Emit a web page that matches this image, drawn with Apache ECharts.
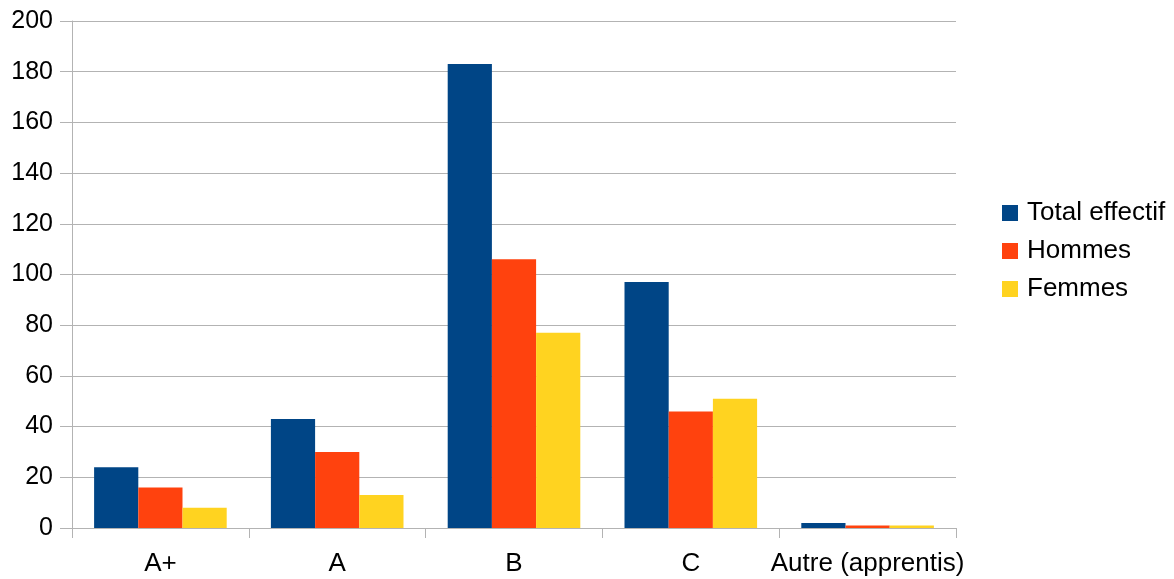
<!DOCTYPE html>
<html><head><meta charset="utf-8">
<script src="https://cdn.jsdelivr.net/npm/echarts@6/dist/echarts.min.js"></script>
<style>html,body{margin:0;padding:0;background:#fff}#c{width:1174px;height:579px}</style>
</head><body><div id="c"></div>
<script>
const categories = ['A+', 'A', 'B', 'C', 'Autre (apprentis)'];
const totalEffectif = [24, 43, 183, 97, 2];
const hommes = [16, 30, 106, 46, 1];
const femmes = [8, 13, 77, 51, 1];
const seriesNames = ['Total effectif', 'Hommes', 'Femmes'];
const yTicks = {min: 0, max: 200, interval: 20};

const font = 'Liberation Sans';
const chart = echarts.init(document.getElementById('c'));
chart.setOption({
  animation: false,
  textStyle: {fontFamily: font},
  color: ['#004586', '#ff420e', '#ffd320'],
  grid: {left: 72, right: 218, top: 21, bottom: 51, containLabel: false},
  legend: {
    orient: 'vertical', left: 1002, top: 200, padding: 0,
    itemWidth: 16, itemHeight: 16, itemGap: 12,
    icon: 'rect',
    textStyle: {fontFamily: font, fontSize: 26, color: '#000', padding: [0,0,0,4]},
    data: seriesNames
  },
  xAxis: {
    type: 'category', data: categories,
    axisLine: {lineStyle: {color: '#b3b3b3', width: 1}},
    axisTick: {show: true, length: 10, interval: 0, lineStyle: {color: '#b3b3b3'}},
    axisLabel: {color: '#000', fontSize: 26, fontFamily: font, margin: 23, interval: 0}
  },
  yAxis: {
    type: 'value', min: yTicks.min, max: yTicks.max, interval: yTicks.interval,
    axisLine: {show: true, lineStyle: {color: '#b3b3b3', width: 1}},
    axisTick: {show: true, length: 12, lineStyle: {color: '#b3b3b3'}},
    axisLabel: {color: '#000', fontSize: 25, fontFamily: font, margin: 19},
    splitLine: {lineStyle: {color: '#b3b3b3', width: 1}}
  },
  series: [
    {name: seriesNames[0], type: 'bar', data: totalEffectif, barGap: '0%', barCategoryGap: '25%'},
    {name: seriesNames[1], type: 'bar', data: hommes, barGap: '0%', barCategoryGap: '25%'},
    {name: seriesNames[2], type: 'bar', data: femmes, barGap: '0%', barCategoryGap: '25%'}
  ]
});
</script></body></html>
